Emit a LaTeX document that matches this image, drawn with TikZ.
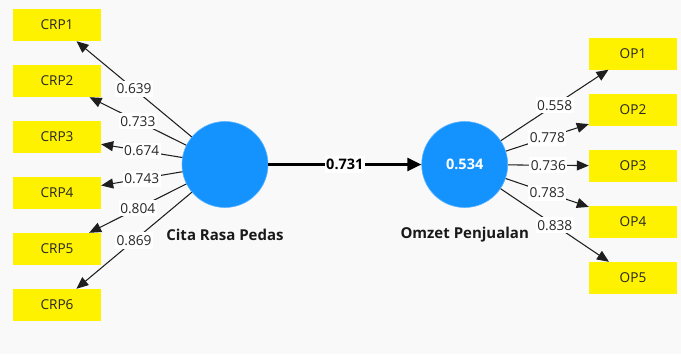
\documentclass[tikz,border=0pt]{standalone}
\usepackage{fontspec}
\setmainfont{Open Sans}
\usetikzlibrary{arrows.meta}
\definecolor{bgc}{HTML}{F9F9F9}
\definecolor{lvc}{HTML}{1493FF}
\definecolor{linec}{HTML}{1E1E1E}
\begin{document}
\begin{tikzpicture}[x=1pt,y=-1pt,
  ind/.style={fill=yellow, minimum width=88pt, minimum height=32pt, inner sep=0pt, text=black!85, font=\fontsize{13.6}{13.6}\selectfont},
  lat/.style={circle, fill=lvc, minimum size=86pt, inner sep=0pt, draw=lvc!70!white, line width=0.6pt},
  load/.style={draw=linec, line width=1.05pt, -{Triangle[length=12pt,width=10pt]}},
  lbl/.style={fill=white, inner xsep=1.5pt, inner ysep=3pt, text=black!85, font=\fontsize{13.7}{13.7}\selectfont},
  strpath/.style={draw=black, line width=2.4pt, -{Triangle[length=14pt,width=13pt]}},
  lname/.style={font=\bfseries\fontsize{15}{15}\selectfont, text=black!90},
]
\fill[bgc] (0,0) rectangle (681,354);
\useasboundingbox (0,0) rectangle (681,354);

% latent variables
\node[lat] (crp) at (225,164.5) {};
\node[lat, text=white, font=\bfseries\fontsize{14.5}{14.5}\selectfont] (op) at (464.7,164.5) {0.534};
\node[lname] (crpname) at (225,235) {Cita Rasa Pedas};
\node[lname] (opname) at (464.7,235) {Omzet Penjualan};

% indicators left
\node[ind] (crp1) at (57,25) {CRP1};
\node[ind] (crp2) at (57,81) {CRP2};
\node[ind] (crp3) at (57,137) {CRP3};
\node[ind] (crp4) at (57,193) {CRP4};
\node[ind] (crp5) at (57,249) {CRP5};
\node[ind] (crp6) at (57,305) {CRP6};

% indicators right
\node[ind] (op1) at (633,53.5) {OP1};
\node[ind] (op2) at (633,109.7) {OP2};
\node[ind] (op3) at (633,166) {OP3};
\node[ind] (op4) at (633,222) {OP4};
\node[ind] (op5) at (633,278) {OP5};

% loadings
\draw[load] (crp) -- node[lbl] {0.639} (crp1);
\draw[load] (crp) -- node[lbl] {0.733} (crp2);
\draw[load] (crp) -- node[lbl] {0.674} (crp3);
\draw[load] (crp) -- node[lbl] {0.743} (crp4);
\draw[load] (crp) -- node[lbl] {0.804} (crp5);
\draw[load] (crp) -- node[lbl] {0.869} (crp6);

\draw[load] (op) -- node[lbl] {0.558} (op1);
\draw[load] (op) -- node[lbl] {0.778} (op2);
\draw[load] (op) -- node[lbl] {0.736} (op3);
\draw[load] (op) -- node[lbl] {0.783} (op4);
\draw[load] (op) -- node[lbl] {0.838} (op5);

% structural path
\draw[strpath] (crp) -- node[lbl, text=black, font=\bfseries\fontsize{14.5}{14.5}\selectfont] {0.731} (op);
\end{tikzpicture}
\end{document}
